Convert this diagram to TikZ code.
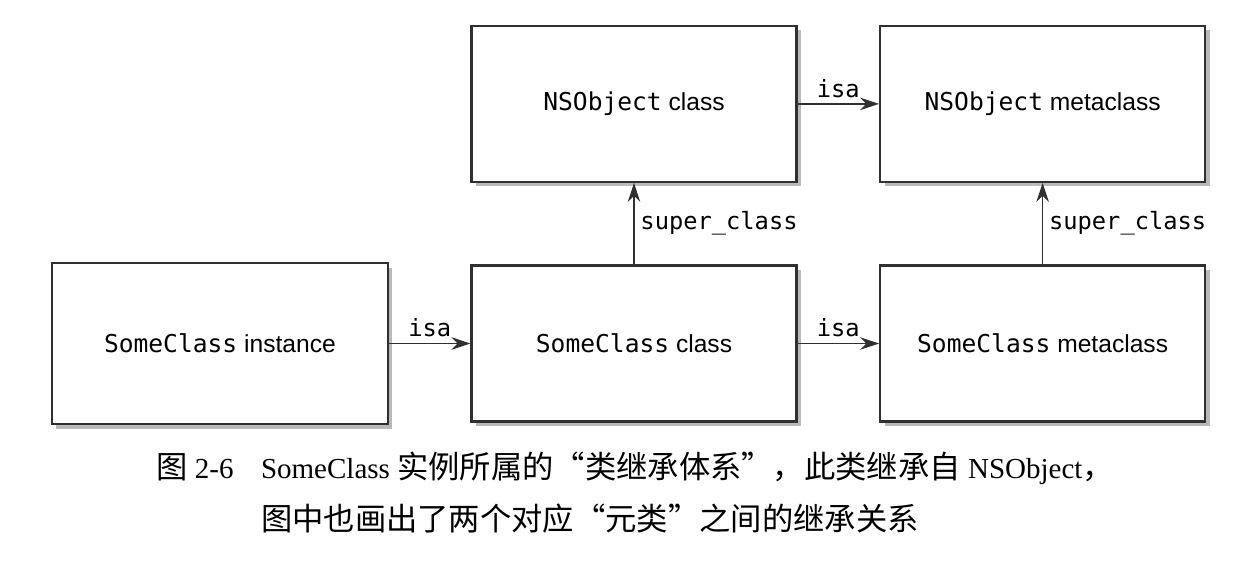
\documentclass[tikz,border=0pt]{standalone}
\usepackage{fontspec}
\setmainfont{Liberation Serif}
\setsansfont{Liberation Sans}
\setmonofont{DejaVu Sans Mono}
\newfontfamily\cjk[Scale=1.08]{Noto Sans CJK SC}
\usetikzlibrary{positioning,arrows.meta,shadows}
\definecolor{inkgray}{HTML}{303030}
\newcommand{\cname}[1]{{\ttfamily #1}}
\tikzset{
  cbox/.style={draw=inkgray,line width=1.2pt,fill=white,minimum width=6.5cm,minimum height=3.12cm,
    drop shadow={shadow xshift=0.09cm,shadow yshift=-0.09cm,fill=black!55},
    font=\sffamily\fontsize{14}{16}\selectfont},
  arr/.style={-{Stealth[length=3.8mm,width=2.5mm]},draw=inkgray,line width=0.7pt},
  lbl/.style={font=\ttfamily\fontsize{13.5}{16}\selectfont}
}

\begin{document}
\begin{tikzpicture}[node distance=1.63cm]
\useasboundingbox (0,0) rectangle (24.86,-11.52);
% class chain
\node[cbox] (scls) at (12.68,-6.87) {\cname{SomeClass} class};
\node[cbox, minimum width=6.72cm, minimum height=3.22cm, left=of scls] (inst) {\cname{SomeClass} instance};
\node[cbox, right=of scls] (smeta) {\cname{SomeClass} metaclass};
\node[cbox, above=of scls] (nscls) {\cname{NSObject} class};
\node[cbox, above=of smeta] (nsmeta) {\cname{NSObject} metaclass};

\draw[arr] (inst) -- node[lbl, above]{isa} (scls);
\draw[arr] (scls) -- node[lbl, above]{isa} (smeta);
\draw[arr] (nscls) -- node[lbl, above]{isa} (nsmeta);
\draw[arr] (scls) -- node[lbl, right]{super\_class} (nscls);
\draw[arr] (smeta) -- node[lbl, right]{super\_class} (nsmeta);

% caption
\node[anchor=base west, inner sep=0pt, font=\fontsize{16.5}{29.6}\selectfont] (cap) at (3.12,-9.56)
  {\begin{tabular}[t]{@{}l@{\hspace{0.55cm}}l@{}}
   {\cjk 图} 2-6 & SomeClass {\cjk 实例所属的“类继承体系”，此类继承自} NSObject{\cjk ，}\\
   & {\cjk 图中也画出了两个对应“元类”之间的继承关系}
   \end{tabular}};
\end{tikzpicture}
\end{document}
